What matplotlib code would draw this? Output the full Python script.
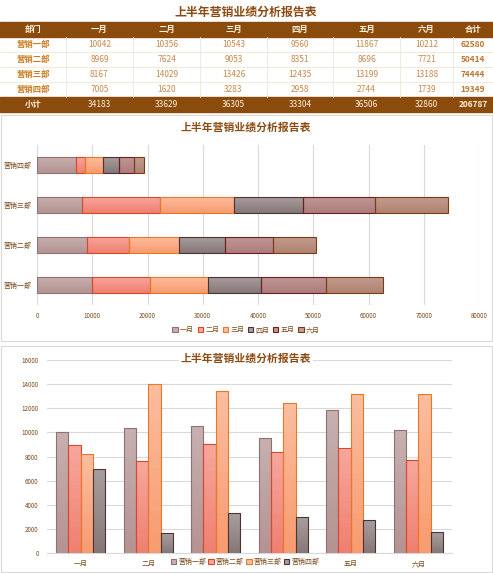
import matplotlib
matplotlib.use('Agg')
import matplotlib.pyplot as plt
import matplotlib.patches as mpatches
from matplotlib.colors import LinearSegmentedColormap
import numpy as np

plt.rcParams['font.family'] = ['Noto Sans CJK SC', 'DejaVu Sans']

title = '上半年营销业绩分析报告表'
depts = ['营销一部', '营销二部', '营销三部', '营销四部']
months = ['一月', '二月', '三月', '四月', '五月', '六月']
sales_1 = [10042, 10356, 10543, 9560, 11867, 10212]
sales_2 = [8969, 7624, 9053, 8351, 8696, 7721]
sales_3 = [8167, 14029, 13426, 12435, 13199, 13188]
sales_4 = [7005, 1620, 3283, 2958, 2744, 1739]
dept_totals = [62580, 50414, 74444, 19349]
month_totals = [34183, 33629, 36305, 33304, 36506, 32860]
grand_total = 206787
sales = [sales_1, sales_2, sales_3, sales_4]

# (top colour, bottom colour, edge) per month / per dept
colors = [
    ('#C8B0B0', '#B59393', '#8E7272'),
    ('#F7A79D', '#EF8070', '#D8482A'),
    ('#FBBE9F', '#F89B70', '#E87828'),
    ('#A89E9E', '#877878', '#4A3434'),
    ('#C29696', '#AD7D7D', '#6E1E1E'),
    ('#C49E8E', '#AF8373', '#7A3C14'),
]

W, H = 493, 573
fig = plt.figure(figsize=(W / 100, H / 100), dpi=100)
fig.patch.set_facecolor('white')

brown = '#8A4B0C'
title_c = '#8B4A12'


def px(l, t, r, b):
    return [l / W, 1 - b / H, (r - l) / W, (b - t) / H]


def grad_fill(ax, bars, ctop, cbot):
    cmap = LinearSegmentedColormap.from_list('g', [cbot, ctop])
    xl, yl = ax.get_xlim(), ax.get_ylim()
    for b in bars:
        x, y = b.get_x(), b.get_y()
        w, h = b.get_width(), b.get_height()
        im = ax.imshow(np.linspace(0, 1, 32).reshape(-1, 1), cmap=cmap,
                       origin='lower', aspect='auto',
                       extent=[x, x + w, y, y + h], zorder=2)
        im.set_clip_path(b)
        b.set_facecolor('none')
        b.set_zorder(3)
    ax.set_xlim(xl)
    ax.set_ylim(yl)


# ---- table ----
tab = fig.add_axes([0, 0, 1, 1])
tab.set_xlim(0, W)
tab.set_ylim(H, 0)
tab.axis('off')

tab.text(246, 12, title, ha='center', va='center', fontsize=8.6,
         fontweight='bold', color=title_c)

col_edges = [0, 66, 133, 200, 267, 333, 400, 453, 493]
row_edges = [22, 37, 52, 67, 82, 97, 112]
headers = ['部门'] + months + ['合计']

tab.add_patch(mpatches.Rectangle((0, row_edges[0]), W, 15, color=brown))
tab.add_patch(mpatches.Rectangle((0, row_edges[5]), W, 15, color=brown))
for xe in col_edges[1:-1]:
    tab.plot([xe, xe], [row_edges[1], row_edges[5]], color='#F3E6D6', lw=0.6)
for ye in row_edges[2:5]:
    tab.plot([0, W], [ye, ye], color='#F3E6D6', lw=0.6)

cx = [(col_edges[i] + col_edges[i + 1]) / 2 for i in range(len(col_edges) - 1)]
cy = [(row_edges[i] + row_edges[i + 1]) / 2 for i in range(len(row_edges) - 1)]

for i, h in enumerate(headers):
    tab.text(cx[i], cy[0], h, ha='center', va='center', fontsize=6,
             fontweight='bold', color='#FFF3DC')
for r, d in enumerate(depts):
    tab.text(cx[0], cy[r + 1], d, ha='center', va='center', fontsize=6,
             fontweight='bold', color='#C97A1E')
    for c, v in enumerate(sales[r]):
        tab.text(cx[c + 1], cy[r + 1], str(v), ha='center', va='center',
                 fontsize=6, color='#C8894E')
    tab.text(cx[7], cy[r + 1], str(dept_totals[r]), ha='center', va='center',
             fontsize=6, fontweight='bold', color='#BF7630')
tab.text(cx[0], cy[5], '小计', ha='center', va='center', fontsize=6,
         fontweight='bold', color='#FFF3DC')
for c, v in enumerate(month_totals):
    tab.text(cx[c + 1], cy[5], str(v), ha='center', va='center', fontsize=6,
             color='#FFF3DC')
tab.text(cx[7], cy[5], str(grand_total), ha='center', va='center', fontsize=6,
         fontweight='bold', color='#FFF3DC')

# panel frames
tab.add_patch(mpatches.Rectangle((0.5, 115), W - 1.5, 226, fill=False,
                                 ec='#D9D9D9', lw=0.8))
tab.add_patch(mpatches.Rectangle((0.5, 346), W - 1.5, 226, fill=False,
                                 ec='#D9D9D9', lw=0.8))

# ---- stacked horizontal bars ----
ax1 = fig.add_axes(px(37, 145, 479, 305))
yy = np.arange(len(depts))
left = np.zeros(len(depts))
for m in range(len(months)):
    vals = np.array([sales[d][m] for d in range(len(depts))])
    bars = ax1.barh(yy, vals, left=left, height=0.42, edgecolor=colors[m][2],
                    linewidth=0.8, label=months[m])
    grad_fill(ax1, bars, colors[m][0], colors[m][1])
    left += vals
ax1.set_xlim(0, 80000)
ax1.set_ylim(-0.5, 3.5)
ax1.set_xticks(np.arange(0, 80001, 10000))
ax1.set_yticks(yy)
ax1.set_yticklabels(depts)
ax1.grid(axis='x', color='#D9D9D9', lw=0.8, zorder=0)
ax1.set_axisbelow(True)
for s in ax1.spines.values():
    s.set_visible(False)
ax1.tick_params(length=0, labelsize=4.5, colors='#7A4A1A')
ax1.tick_params(axis='x', pad=5)
ax1.tick_params(axis='y', pad=4, labelsize=5)
ax1.set_facecolor('none')
fig.text(246 / W, 1 - 127 / H, title, ha='center', va='center', fontsize=7.8,
         fontweight='bold', color=title_c)
h1 = [mpatches.Patch(fc=colors[m][0], ec=colors[m][2], lw=0.8) for m in range(6)]
fig.legend(h1, months, loc='center', bbox_to_anchor=(246 / W, 1 - 330 / H),
           ncol=6, fontsize=5, frameon=False, handlelength=0.8,
           handleheight=0.8, handletextpad=0.3, columnspacing=0.5,
           labelcolor='#7A4A1A')

# ---- grouped bars ----
ax2 = fig.add_axes(px(47, 360, 452, 553))
xx = np.arange(len(months))
bw = 0.182
for d in range(len(depts)):
    bars = ax2.bar(xx + (d - 1.5) * bw, sales[d], width=bw,
                   edgecolor=colors[d][2], linewidth=0.8, label=depts[d])
    grad_fill(ax2, bars, colors[d][0], colors[d][1])
ax2.set_xlim(-0.5, 5.5)
ax2.set_ylim(0, 16000)
ax2.set_yticks(np.arange(0, 16001, 2000))
ax2.set_xticks(xx)
ax2.set_xticklabels(months)
# the legend sits over the 三月 / 四月 labels, as in the original
for lab in ax2.get_xticklabels()[2:4]:
    lab.set_visible(False)
ax2.grid(axis='y', color='#D9D9D9', lw=0.8, zorder=0)
ax2.set_axisbelow(True)
for s in ['top', 'right', 'left']:
    ax2.spines[s].set_visible(False)
ax2.spines['bottom'].set_color('#D9D9D9')
ax2.tick_params(length=0, labelsize=4.5, colors='#7A4A1A')
ax2.tick_params(axis='y', pad=6)
ax2.tick_params(axis='x', pad=5, labelsize=5)
ax2.set_facecolor('none')
fig.text(246 / W, 1 - 358 / H, title, ha='center', va='center', fontsize=7.8,
         fontweight='bold', color=title_c,
         bbox=dict(fc='white', ec='none', pad=1))
h2 = [mpatches.Patch(fc=colors[d][0], ec=colors[d][2], lw=0.8) for d in range(4)]
lg = fig.legend(h2, depts, loc='center', bbox_to_anchor=(245 / W, 1 - 562 / H),
                ncol=4, fontsize=5, frameon=True, handlelength=0.8,
                handleheight=0.8, handletextpad=0.3, columnspacing=0.3,
                labelcolor='#7A4A1A', borderpad=0.2, fancybox=False)
lg.get_frame().set_facecolor('white')
lg.get_frame().set_edgecolor('white')

fig.savefig('out.png', dpi=100, facecolor='white')
